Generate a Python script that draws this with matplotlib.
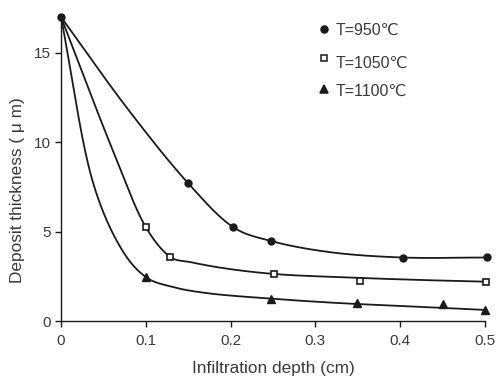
import numpy as np
import matplotlib
matplotlib.use("Agg")
import matplotlib.pyplot as plt
from matplotlib.lines import Line2D

# Marker data
x950 = [0.0, 0.15, 0.203, 0.248, 0.403, 0.502]
y950 = [17.0, 7.7, 5.25, 4.47, 3.52, 3.58]
x1050 = [0.10, 0.129, 0.251, 0.353, 0.501]
y1050 = [5.25, 3.58, 2.63, 2.23, 2.18]
x1100 = [0.10, 0.248, 0.349, 0.45, 0.50]
y1100 = [2.46, 1.25, 1.0, 0.95, 0.61]

# Points read along the drawn (smoothed) lines
cx950 = [0.0, 0.078, 0.15, 0.203, 0.248, 0.317, 0.403, 0.5]
cy950 = [17.0, 11.9, 7.7, 5.25, 4.47, 3.85, 3.55, 3.55]
cx1050 = [0.0, 0.061, 0.1, 0.129, 0.152, 0.191, 0.251, 0.329, 0.42, 0.5]
cy1050 = [17.0, 9.55, 5.25, 3.58, 3.30, 2.96, 2.63, 2.45, 2.3, 2.2]
cx1100 = [0.0, 0.038, 0.072, 0.1, 0.132, 0.172, 0.248, 0.329, 0.42, 0.5]
cy1100 = [17.0, 7.7, 3.97, 2.46, 1.9, 1.56, 1.25, 1.0, 0.8, 0.62]

labels = ["T=950\u2103", "T=1050\u2103", "T=1100\u2103"]

plt.rcParams['font.family'] = ['Liberation Sans', 'DejaVu Sans']

SX, SY = 1696.0, 17.9  # approx pixels per data unit, for an aspect-correct parameterisation


def catmull_rom(x, y, n=60, alpha=0.5):
    P = np.column_stack([np.asarray(x) * SX, np.asarray(y) * SY])
    P = np.vstack([2 * P[0] - P[1], P, 2 * P[-1] - P[-2]])
    out = []
    for i in range(1, len(P) - 2):
        p0, p1, p2, p3 = P[i - 1], P[i], P[i + 1], P[i + 2]
        t0 = 0.0
        t1 = t0 + np.linalg.norm(p1 - p0) ** alpha
        t2 = t1 + np.linalg.norm(p2 - p1) ** alpha
        t3 = t2 + np.linalg.norm(p3 - p2) ** alpha
        t = np.linspace(t1, t2, n)[:, None]
        a1 = (t1 - t) / (t1 - t0) * p0 + (t - t0) / (t1 - t0) * p1
        a2 = (t2 - t) / (t2 - t1) * p1 + (t - t1) / (t2 - t1) * p2
        a3 = (t3 - t) / (t3 - t2) * p2 + (t - t2) / (t3 - t2) * p3
        b1 = (t2 - t) / (t2 - t0) * a1 + (t - t0) / (t2 - t0) * a2
        b2 = (t3 - t) / (t3 - t1) * a2 + (t - t1) / (t3 - t1) * a3
        c = (t2 - t) / (t2 - t1) * b1 + (t - t1) / (t2 - t1) * b2
        out.append(c if i == 1 else c[1:])
    C = np.vstack(out)
    return C[:, 0] / SX, C[:, 1] / SY


fig = plt.figure(figsize=(5.0, 3.79), dpi=100)
ax = fig.add_axes([0.122, 0.153, 0.848, 0.807])
col = '#1a1a1a'
tcol = '#3a3a3a'

for cx, cy in [(cx950, cy950), (cx1050, cy1050), (cx1100, cy1100)]:
    sx, sy = catmull_rom(cx, cy)
    ax.plot(sx, sy, color=col, lw=1.3, clip_on=False, solid_capstyle='round')

ax.plot(x950, y950, linestyle='none', marker='o', ms=5, mfc=col, mec=col, mew=1.0, clip_on=False, zorder=3)
ax.plot(x1050, y1050, linestyle='none', marker='s', ms=5, mfc='white', mec=col, mew=1.2, clip_on=False, zorder=3)
ax.plot(x1100, y1100, linestyle='none', marker='^', ms=5.5, mfc=col, mec=col, mew=1.0, clip_on=False, zorder=3)

ax.set_xlim(0, 0.5)
ax.set_ylim(0, 17.1)
ax.set_xticks([0, 0.1, 0.2, 0.3, 0.4, 0.5])
ax.set_xticklabels(['0', '0.1', '0.2', '0.3', '0.4', '0.5'])
ax.set_yticks([0, 5, 10, 15])
for s in ['top', 'right']:
    ax.spines[s].set_visible(False)
for s in ['left', 'bottom']:
    ax.spines[s].set_color(col)
    ax.spines[s].set_linewidth(1.0)
ax.tick_params(direction='out', length=4, width=1.0, color=col, labelsize=11, labelcolor=tcol, pad=5)
ax.tick_params(axis='y', pad=3)
ax.set_xlabel('Infiltration depth (cm)', fontsize=12.4, color=tcol)
ax.set_ylabel('Deposit thickness ( \u03bc m)', fontsize=12.4, color=tcol)
ax.xaxis.set_label_coords(0.5, -0.132)
ax.yaxis.set_label_coords(-0.085, 0.428)

# legend entries
mk = [('o', col, 5, 29), ('s', 'white', 5, 58), ('^', col, 5.5, 89)]
ty = [30, 63, 91]
for (m, fc, ms, py), lab, tpy in zip(mk, labels, ty):
    fig.lines.append(Line2D([324 / 500], [1 - py / 379], transform=fig.transFigure,
                            marker=m, ms=ms, mfc=fc, mec=col, mew=1.1, linestyle='none'))
    fig.text(336 / 500, 1 - tpy / 379, lab, fontsize=11.5, color=tcol, va='center', ha='left')

fig.savefig('out.png', dpi=100)
